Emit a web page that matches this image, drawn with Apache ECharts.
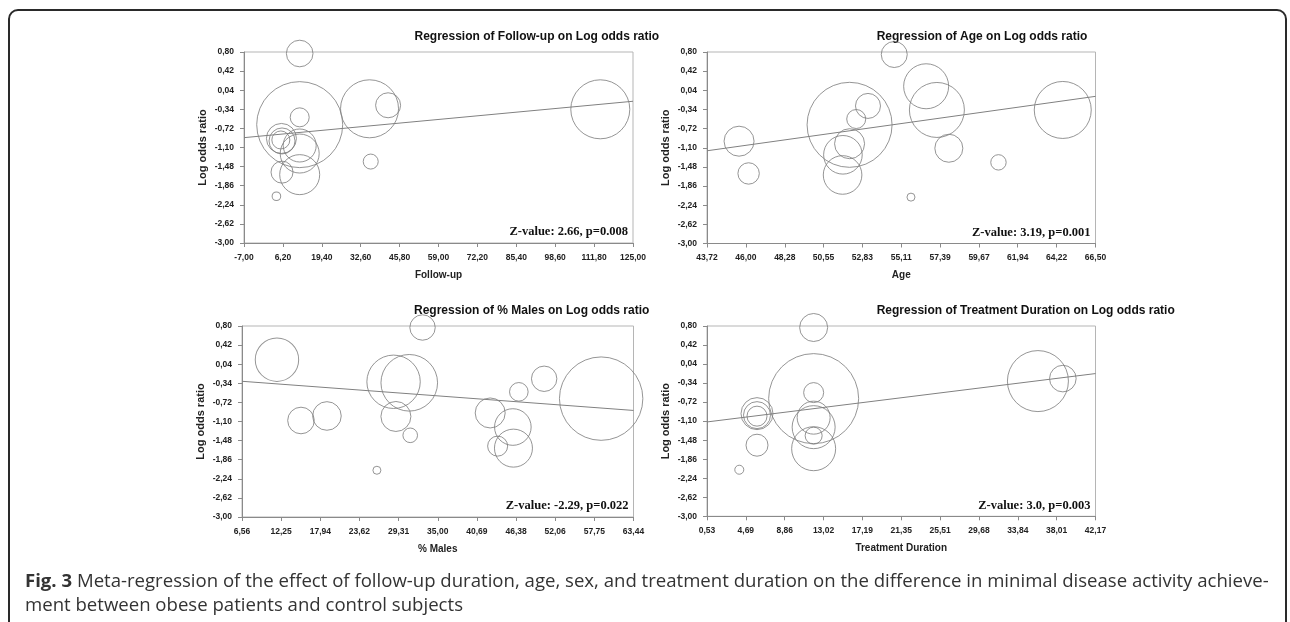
<!DOCTYPE html>
<html>
<head>
<meta charset="utf-8">
<script src="https://cdn.jsdelivr.net/npm/echarts@6/dist/echarts.min.js"></script>
<style>
  html, body { margin: 0; padding: 0; background: #fff; }
  #wrap { position: relative; width: 1290px; height: 622px; overflow: hidden; }
  #chart { position: absolute; left: 0; top: 0; width: 1290px; height: 622px; }
  #frame { position: absolute; left: 8px; top: 9px; width: 1279px; height: 700px;
           border: 2px solid #2a2a2a; border-radius: 10px; box-sizing: border-box; }
  .cap { position: absolute; left: 25px; font-family: 'Open Sans', sans-serif;
         font-size: 15px; line-height: 20px; color: #333; white-space: nowrap; }
  #cap1 { top: 570px; }
  #cap2 { top: 594px; }
</style>
</head>
<body>
<div id="wrap">
  <div id="frame"></div>
  <div id="chart"></div>
  <div class="cap" id="cap1"><b>Fig. 3</b> Meta-regression of the effect of follow-up duration, age, sex, and treatment duration on the difference in minimal disease activity achieve-</div>
  <div class="cap" id="cap2">ment between obese patients and control subjects</div>
</div>
<script>
// ---- tick labels ----
const followTicks   = [-7.00, 6.20, 19.40, 32.60, 45.80, 59.00, 72.20, 85.40, 98.60, 111.80, 125.00];
const ageTicks      = [43.72, 46.00, 48.28, 50.55, 52.83, 55.11, 57.39, 59.67, 61.94, 64.22, 66.50];
const malesTicks    = [6.56, 12.25, 17.94, 23.62, 29.31, 35.00, 40.69, 46.38, 52.06, 57.75, 63.44];
const durationTicks = [0.53, 4.69, 8.86, 13.02, 17.19, 21.35, 25.51, 29.68, 33.84, 38.01, 42.17];
const logOddsTicks  = [-3.00, -2.62, -2.24, -1.86, -1.48, -1.10, -0.72, -0.34, 0.04, 0.42, 0.80];

// ---- Follow-up panel ----
const followX = [11.9, 11.9, 35.6, 41.9, 113.9, 11.9, 5.7, 5.9, 5.5, 11.9, 11.9, 36.0, 5.9, 11.9, 4.0];
const followY = [0.77, -0.645, -0.33, -0.26, -0.34, -0.50, -0.92, -0.97, -0.95, -1.06, -1.22, -1.38, -1.59, -1.64, -2.07];
const followW = [13.3, 43, 29, 12.5, 29.5, 9.5, 15, 13, 9, 16.5, 19.5, 7.5, 11, 20, 4.3];
const followFit = [-0.904, -0.18];

// ---- Age panel ----
const ageX = [54.70, 56.57, 57.2, 64.58, 52.08, 53.16, 52.47, 45.6, 46.16, 52.08, 51.69, 51.67, 57.9, 60.81, 55.68];
const ageY = [0.75, 0.12, -0.35, -0.35, -0.645, -0.27, -0.53, -0.97, -1.61, -1.02, -1.24, -1.64, -1.11, -1.39, -2.08];
const ageW = [13, 22.5, 27.5, 28.5, 42.5, 12.5, 9.5, 15, 10.7, 15, 19.3, 19.3, 14, 7.7, 4];
const ageFit = [-1.16, -0.08];

// ---- % Males panel ----
const malesX = [11.64, 32.79, 28.58, 30.86, 58.74, 50.46, 46.78, 15.13, 18.9, 28.92, 31.0, 26.16, 42.62, 45.91, 43.7, 46.0];
const malesY = [0.13, 0.77, -0.31, -0.33, -0.645, -0.25, -0.51, -1.08, -0.99, -1.0, -1.375, -2.07, -0.93, -1.21, -1.59, -1.63];
const malesW = [21.7, 12.7, 26.7, 28.3, 41.7, 12.7, 9.3, 13.3, 14.3, 15, 7.3, 4, 15, 18.3, 10, 19];
const malesFit = [-0.30, -0.88];

// ---- Treatment Duration panel ----
const durX = [11.96, 11.96, 36.0, 38.67, 11.96, 5.89, 5.89, 5.89, 5.89, 3.99, 11.96, 11.96, 11.96, 11.96];
const durY = [0.77, -0.65, -0.30, -0.25, -0.53, -0.95, -0.98, -1.0, -1.58, -2.07, -1.03, -1.22, -1.39, -1.65];
const durW = [14, 45, 30.5, 13.3, 10, 16, 13.5, 10, 11, 4.5, 16.5, 21.5, 8.5, 22];
const durFit = [-1.116, -0.15];

const titles = [
  'Regression of Follow-up on Log odds ratio',
  'Regression of Age on Log odds ratio',
  'Regression of % Males on Log odds ratio',
  'Regression of Treatment Duration on Log odds ratio'
];
const xNames = ['Follow-up', 'Age', '% Males', 'Treatment Duration'];
const yName = 'Log odds ratio';
const zTexts = ['Z-value: 2.66, p=0.008', 'Z-value: 3.19, p=0.001', 'Z-value: -2.29, p=0.022', 'Z-value: 3.0, p=0.003'];

// ---- layout (pixels) ----
const grids = [
  { left: 244, top: 52, width: 389, height: 191 },
  { left: 707, top: 52, width: 388.5, height: 191.5 },
  { left: 242, top: 326, width: 391.5, height: 191 },
  { left: 707, top: 326, width: 388.5, height: 190.3 }
];
const titlePos = [[414.5, 31], [876.7, 31], [414, 305], [876.7, 305]];

const panels = [
  { ticks: followTicks, x: followX, y: followY, w: followW, fit: followFit },
  { ticks: ageTicks, x: ageX, y: ageY, w: ageW, fit: ageFit },
  { ticks: malesTicks, x: malesX, y: malesY, w: malesW, fit: malesFit },
  { ticks: durationTicks, x: durX, y: durY, w: durW, fit: durFit }
];

const fmt = v => Number(v).toFixed(2).replace('.', ',');
const FONT = 'Liberation Sans, Arial, sans-serif';

const option = {
  animation: false,
  grid: [], xAxis: [], yAxis: [], series: [], graphic: []
};

panels.forEach((p, i) => {
  const g = grids[i];
  option.grid.push({ left: g.left, top: g.top, width: g.width, height: g.height,
    show: true, borderColor: '#b5b5b5', borderWidth: 1, containLabel: false });
  option.xAxis.push({
    type: 'value', gridIndex: i,
    min: p.ticks[0], max: p.ticks[p.ticks.length - 1],
    name: xNames[i], nameLocation: 'middle', nameGap: 27,
    nameTextStyle: { fontFamily: FONT, fontWeight: 'bold', fontSize: 10, color: '#222' },
    axisLine: { show: true, onZero: false, lineStyle: { color: '#8a8a8a', width: 1 } },
    axisTick: { show: true, length: 4, lineStyle: { color: '#8a8a8a' }, customValues: p.ticks },
    axisLabel: { customValues: p.ticks, formatter: fmt, margin: 10,
      fontFamily: FONT, fontWeight: 'bold', fontSize: 8.5, color: '#222', showMinLabel: true, showMaxLabel: true },
    splitLine: { show: false }
  });
  option.yAxis.push({
    type: 'value', gridIndex: i,
    min: logOddsTicks[0], max: logOddsTicks[logOddsTicks.length - 1],
    name: yName, nameLocation: 'middle', nameGap: 36, nameRotate: 90,
    nameTextStyle: { fontFamily: FONT, fontWeight: 'bold', fontSize: 11, color: '#222' },
    axisLine: { show: true, onZero: false, lineStyle: { color: '#8a8a8a', width: 1 } },
    axisTick: { show: true, length: 4, lineStyle: { color: '#8a8a8a' }, customValues: logOddsTicks },
    axisLabel: { customValues: logOddsTicks, formatter: fmt, margin: 10,
      fontFamily: FONT, fontWeight: 'bold', fontSize: 8.5, color: '#222' },
    splitLine: { show: false }
  });
  option.series.push({
    type: 'scatter', xAxisIndex: i, yAxisIndex: i, clip: false,
    data: p.x.map((xv, k) => [xv, p.y[k], p.w[k]]),
    symbol: 'circle',
    symbolSize: d => d[2] * 2,
    itemStyle: { color: 'rgba(0,0,0,0)', borderColor: '#7a7a7a', borderWidth: 1 },
    silent: true
  });
  option.series.push({
    type: 'line', xAxisIndex: i, yAxisIndex: i,
    data: [[p.ticks[0], p.fit[0]], [p.ticks[p.ticks.length - 1], p.fit[1]]],
    symbol: 'none', lineStyle: { color: '#808080', width: 1 }, silent: true
  });
  option.graphic.push({
    type: 'text', left: titlePos[i][0], top: titlePos[i][1],
    style: { text: titles[i], fontFamily: FONT, fontWeight: 'bold', fontSize: 12, fill: '#111',
      textAlign: 'center', textVerticalAlign: 'middle' }
  });
  option.graphic.push({
    type: 'text', x: g.left + g.width - 5, y: g.top + g.height - 11,
    style: { text: zTexts[i], fontFamily: 'Liberation Serif, Times New Roman, serif', fontWeight: 'bold',
      fontSize: 12.5, fill: '#111', textAlign: 'right', textVerticalAlign: 'middle' }
  });
});

const chart = echarts.init(document.getElementById('chart'), null, { renderer: 'canvas' });
chart.setOption(option);

// fit the caption's first line to the reference text block width
(function fitCaption() {
  const c1 = document.getElementById('cap1');
  const c2 = document.getElementById('cap2');
  const target = 1245;
  const w = c1.getBoundingClientRect().width;
  const size = 15 * target / w;
  c1.style.fontSize = size + 'px';
  c2.style.fontSize = size + 'px';
})();
</script>
</body>
</html>
